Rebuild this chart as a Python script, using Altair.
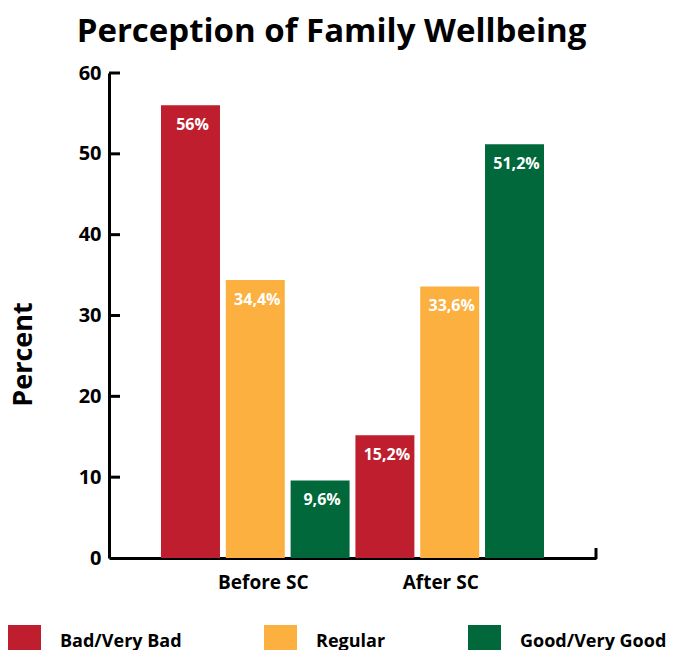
import altair as alt
import pandas as pd

periods = ["Before SC", "After SC"]
categories = ["Bad/Very Bad", "Regular", "Good/Very Good"]
before_values = [56, 34.4, 9.6]
after_values = [15.2, 33.6, 51.2]
colors = ["#BE1E2D", "#FBB040", "#00683A"]
y_ticks = [0, 10, 20, 30, 40, 50, 60]

rows = []
for period, vals in zip(periods, [before_values, after_values]):
    for cat, v in zip(categories, vals):
        rows.append({"period": period, "category": cat, "value": v,
                     "label": f"{v:g}".replace(".", ",") + "%"})
df = pd.DataFrame(rows)
ticks_df = pd.DataFrame({"v": y_ticks[1:]})
end_df = pd.DataFrame({"a": [0]})

FONT = "Open Sans"
W, H = 487, 485

x_enc = alt.X("period:N", sort=periods,
              scale=alt.Scale(paddingInner=0.03, paddingOuter=0.2675),
              axis=alt.Axis(title=None, labelAngle=0, ticks=False, tickSize=0,
                            domainColor="black", domainWidth=3,
                            labelFont=FONT, labelFontWeight="bold", labelFontSize=19,
                            labelColor="black", labelPadding=15,
                            labelOffset={"condition": {"test": "datum.value == 'Before SC'", "value": 8},
                                         "value": -9}))
xo_enc = alt.XOffset("category:N", sort=categories,
                     scale=alt.Scale(paddingInner=0.09, paddingOuter=0))
y_enc = alt.Y("value:Q", scale=alt.Scale(domain=[0, 60], nice=False),
              axis=alt.Axis(values=y_ticks, title="Percent", grid=False, ticks=False, tickSize=0,
                            domainColor="black", domainWidth=3,
                            labelFont=FONT, labelFontWeight="bold", labelFontSize=20,
                            labelColor="black", labelPadding=8,
                            titleFont=FONT, titleFontWeight="bold", titleFontSize=27,
                            titleColor="black", titleX=-72, titleY=281))

base = alt.Chart(df).encode(x=x_enc, xOffset=xo_enc)

bars = base.mark_bar().encode(
    y=y_enc,
    color=alt.Color("category:N", sort=categories,
                    scale=alt.Scale(domain=categories, range=colors),
                    legend=alt.Legend(title=None, orient="none", legendX=-101, legendY=552,
                                      direction="horizontal", symbolType="square",
                                      symbolSize=1089, symbolStrokeWidth=0, symbolOpacity=1,
                                      labelFont=FONT, labelFontWeight="bold", labelFontSize=18,
                                      labelColor="black", labelOffset=19, columnPadding=82)),
)

labels = base.mark_text(color="white", font=FONT, fontWeight="bold", fontSize=16,
                        baseline="middle", dy=20, dx=2).encode(
    y=alt.Y("value:Q"), text="label:N")

ticks = alt.Chart(ticks_df).mark_rule(color="black", strokeWidth=3).encode(
    y=alt.Y("v:Q"), x=alt.value(0), x2=alt.value(11))

end_tick = alt.Chart(end_df).mark_rule(color="black", strokeWidth=3).encode(
    x=alt.value(W), y=alt.value(H - 10), y2=alt.value(H + 1))

chart = alt.layer(bars, labels, ticks, end_tick).properties(
    width=W, height=H,
    autosize=alt.AutoSizeParams(type="none"),
    padding={"left": 101, "top": 65, "right": 76, "bottom": 92},
    title=alt.TitleParams("Perception of Family Wellbeing", font=FONT, fontWeight="bold",
                          fontSize=33, color="black", anchor="middle", dx=-21, offset=14),
).configure_view(stroke=None)

chart.save("out.html", embed_options={"renderer": "svg", "actions": False})
